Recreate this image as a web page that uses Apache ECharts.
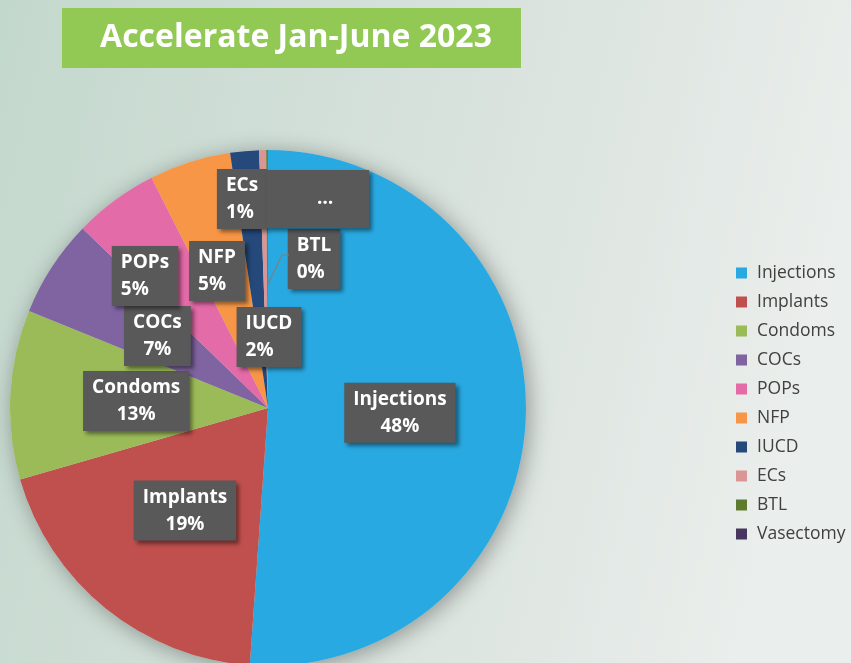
<!DOCTYPE html>
<html>
<head>
<meta charset="utf-8">
<script src="https://cdn.jsdelivr.net/npm/echarts@6/dist/echarts.min.js"></script>
<style>
html,body{margin:0;padding:0;}
#chart{width:851px;height:663px;}
</style>
</head>
<body>
<div id="chart"></div>
<script>
// Data
const categories = ['Injections','Implants','Condoms','COCs','POPs','NFP','IUCD','ECs','BTL','Vasectomy'];
// slice sizes as drawn (share of the circle, %)
const values = [51.1, 19.4, 10.6, 6.1, 5.3, 5.1, 1.8, 0.44, 0.08, 0.03];
// percentages as printed on the data labels
const pctLabels = ['48%','19%','13%','7%','5%','5%','2%','1%','0%','…'];
const colors = ['#29A9E1','#C0504D','#9BBB59','#8064A2','#E36BA8','#F79646','#24497A','#D99694','#5E7A2F','#47365F'];
const titleText = 'Accelerate Jan-June 2023';

const FONT = '"Open Sans", Lato, sans-serif';
// manual label placements (like Excel's moved labels): [centerX, centerY]
const movedLabels = {4:[145,276], 5:[217,271], 6:[269,337], 7:[242,199], 8:[314,259], 9:[318,199]};

const chart = echarts.init(document.getElementById('chart'), null, {renderer:'canvas'});
const option = {
  backgroundColor: {type:'linear', x:0, y:0, x2:1, y2:0.3, colorStops:[
    {offset:0, color:'#C3D8CD'}, {offset:0.6, color:'#DAE3DE'}, {offset:1, color:'#EAEEEC'}]},
  color: colors,
  animation: false,
  graphic: [
    {type:'rect', shape:{x:62, y:8, width:459, height:60}, style:{fill:'#92C955'}, z:10},
    {type:'text', x:296, y:38, z:11, style:{text:titleText, fill:'#ffffff', font:'bold 32px ' + FONT, textAlign:'center', textVerticalAlign:'middle'}},
    // BTL leader line
    {type:'polyline', z:20, shape:{points:[[268,284],[282,255],[289,255]]}, style:{stroke:'#7F7F7F', lineWidth:1.2, fill:null}}
  ],
  legend: {
    orient:'vertical', left:731, top:259, itemWidth:11, itemHeight:11, itemGap:11,
    icon:'rect', data: categories,
    textStyle:{color:'#404040', fontSize:17.5, fontFamily:FONT, lineHeight:18, padding:[0,0,0,5]}
  },
  series: [
    {
      type:'pie', center:[268,408], radius:258, silent:true, z:1,
      label:{show:false}, labelLine:{show:false},
      itemStyle:{color:'#cfd8d3', shadowBlur:22, shadowColor:'rgba(0,0,0,0.35)', shadowOffsetX:3, shadowOffsetY:3},
      data:[{value:1, name:'_shadow'}], legendHoverLink:false
    },
    {
      type:'pie', center:[268,408], radius:258, startAngle:90, clockwise:true, z:2,
      avoidLabelOverlap:false, minAngle:0, stillShowZeroSum:true,
      data: categories.map((c,i)=>({name:c, value:values[i]})),
      label:{
        show:true, position:'inside',
        formatter: p => p.dataIndex === 9 ? pctLabels[9] : p.name + '\n' + pctLabels[p.dataIndex],
        color:'#ffffff', fontWeight:'bold', fontSize:19, fontFamily:FONT, lineHeight:27,
        backgroundColor:'#595959', padding:[3,9], align:'center',
        shadowColor:'rgba(0,0,0,0.45)', shadowBlur:4, shadowOffsetX:3, shadowOffsetY:3
      },
      labelLine:{show:false},
      labelLayout: function(p){
        const m = movedLabels[p.dataIndex];
        if(!m) return {};
        const r = p.labelRect;
        return {x: m[0] - r.width/2, y: m[1] - r.height/2, align:'left', verticalAlign:'top'};
      }
    }
  ]
};
// Vasectomy gets a wide "…" box
option.series[1].data[9].label = {padding:[16,36,16,50], lineHeight:26};
chart.setOption(option);
</script>
</body>
</html>
